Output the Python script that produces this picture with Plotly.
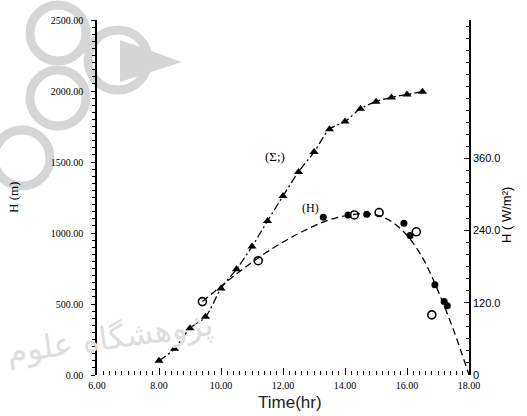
import plotly.graph_objects as go

# Cumulative total (left axis), half-hourly readings
sum_time = [8.0, 8.5, 9.0, 9.5, 10.0, 10.5, 11.0, 11.5, 12.0, 12.5,
            13.0, 13.5, 14.0, 14.5, 15.0, 15.5, 16.0, 16.5]
sum_vals = [100, 185, 330, 410, 610, 745, 905, 1085, 1260, 1430,
            1570, 1730, 1785, 1875, 1925, 1955, 1975, 1995]

# Irradiance H (right axis): open and filled symbols
h_open_time = [9.4, 11.2, 14.3, 15.1, 16.3, 16.8]
h_open_vals = [122, 190, 266, 270, 238, 100]
h_fill_time = [13.3, 14.1, 14.7, 15.9, 16.1, 16.9, 17.2, 17.3]
h_fill_vals = [262, 266, 267, 252, 232, 150, 122, 115]

# Smooth fitted curve for H
h_fit_time = [9.4, 10.5, 11.5, 12.5, 13.5, 14.5, 15.0, 15.5, 16.0, 16.5, 17.0, 17.5, 18.0]
h_fit_vals = [122, 168, 205, 235, 258, 268, 266, 255, 232, 195, 140, 75, 0]

x_ticks = [6, 8, 10, 12, 14, 16, 18]
x_labels = ["6.00", "8.00", "10.00", "12.00", "14.00", "16.00", "18.00"]
left_ticks = [0, 500, 1000, 1500, 2000, 2500]
left_labels = ["0.00", "500.00", "1000.00", "1500.00", "2000.00", "2500.00"]
right_ticks = [0, 120, 240, 360]
right_labels = ["0", "120.0", "240.0", "360.0"]

W, H = 527, 416
L, R, T, B = 97, 469, 20, 375


def px(x):
    return (x - L) / (R - L)


def py(y):
    return (B - y) / (B - T)


fig = go.Figure()

fig.add_trace(go.Scatter(
    x=sum_time, y=sum_vals, mode="lines+markers", line_shape="spline",
    line=dict(color="black", width=1.3, dash="8px,3px,2px,3px"),
    marker=dict(symbol="triangle-up", size=8, color="black"),
    showlegend=False))

fig.add_trace(go.Scatter(
    x=h_fit_time, y=h_fit_vals, yaxis="y2", mode="lines", line_shape="spline",
    line=dict(color="black", width=1.3, dash="7px,4px"), showlegend=False))
fig.add_trace(go.Scatter(
    x=h_open_time, y=h_open_vals, yaxis="y2", mode="markers",
    marker=dict(symbol="circle-open", size=8, color="black", line=dict(width=1.6)),
    showlegend=False))
fig.add_trace(go.Scatter(
    x=h_fill_time, y=h_fill_vals, yaxis="y2", mode="markers",
    marker=dict(symbol="circle", size=7, color="black"),
    showlegend=False))

tick_font = dict(family="Liberation Serif", size=10, color="black")

# Light grey rosette ornament and inscription behind the chart
gray = "#d6d6d6"
shapes = []
for cx, cy, r in [(58, 33, 28), (58, 98, 28), (22, 158, 28), (118, 60, 30)]:
    shapes.append(dict(type="circle", xref="paper", yref="paper",
                       x0=px(cx - r), x1=px(cx + r), y0=py(cy + r), y1=py(cy - r),
                       line=dict(color=gray, width=9), layer="below"))
shapes.append(dict(type="path", xref="paper", yref="paper", layer="below",
                   path=f"M {px(120)},{py(40)} L {px(182)},{py(62)} L {px(120)},{py(82)} Z",
                   fillcolor=gray, line=dict(width=0)))

fig.update_layout(
    width=W, height=H,
    margin=dict(l=L, r=W - R, t=T, b=H - B),
    paper_bgcolor="white", plot_bgcolor="white",
    shapes=shapes,
    xaxis=dict(range=[6, 18], tickvals=x_ticks, ticktext=x_labels,
               showgrid=False, zeroline=False, showline=False,
               ticks="inside", ticklen=7, tickwidth=1.2, tickcolor="black",
               tickfont=tick_font, ticklabelstandoff=3,
               minor=dict(dtick=0.2, ticks="inside", ticklen=4, tickcolor="black", tickwidth=1)),
    yaxis=dict(range=[0, 2500], tickvals=left_ticks, ticktext=left_labels,
               showgrid=False, zeroline=False, showline=True, linecolor="black", linewidth=1.5,
               ticks="outside", ticklen=4, tickcolor="black", tickfont=tick_font,
               ticklabelstandoff=6,
               minor=dict(dtick=50, ticks="outside", ticklen=3, tickcolor="black")),
    yaxis2=dict(range=[0, 590], overlaying="y", side="right", tickvals=right_ticks,
                ticktext=right_labels, showgrid=False, zeroline=False,
                showline=True, linecolor="black", linewidth=1.5,
                ticks="inside", ticklen=5, tickcolor="black",
                tickfont=dict(family="Liberation Sans", size=11, color="black"),
                minor=dict(dtick=20, ticks="inside", ticklen=3, tickcolor="black")),
    annotations=[
        dict(text="Time(hr)", x=px(290), y=py(403), xref="paper", yref="paper", showarrow=False,
             xanchor="center", yanchor="middle",
             font=dict(family="Liberation Sans", size=17, color="#222222")),
        dict(text="H (m)", x=px(13), y=py(198), xref="paper", yref="paper", showarrow=False,
             xanchor="center", yanchor="middle",
             textangle=-90, font=dict(family="Liberation Serif", size=13, color="black")),
        dict(text="H ( W/m²)", x=px(507), y=py(215), xref="paper", yref="paper", showarrow=False,
             xanchor="center", yanchor="middle",
             textangle=-90, font=dict(family="Liberation Sans", size=13, color="black")),
        dict(text="(Σ;)", x=11.75, y=1540, xref="x", yref="y", showarrow=False,
             font=dict(family="Liberation Serif", size=13, color="black")),
        dict(text="(H)", x=12.9, y=278, xref="x", yref="y2", showarrow=False,
             font=dict(family="Liberation Serif", size=12, color="black")),
        dict(text="پژوهشگاه علوم", x=px(110), y=py(338), xref="paper", yref="paper",
             xanchor="center", yanchor="middle",
             showarrow=False, textangle=-8,
             font=dict(family="DejaVu Sans", size=32, color="#dedede")),
    ],
)

fig.write_html("out.html")
